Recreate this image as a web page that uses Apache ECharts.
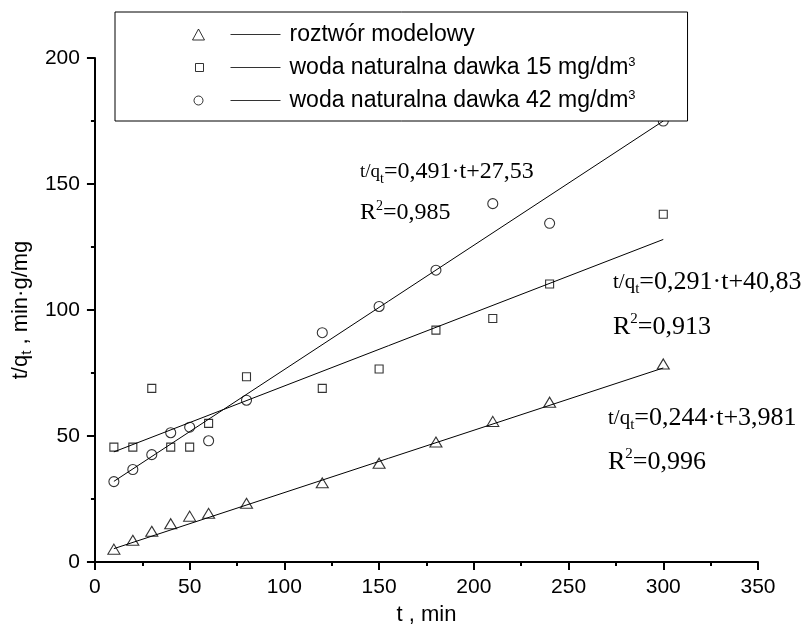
<!DOCTYPE html>
<html>
<head>
<meta charset="utf-8">
<script src="https://cdn.jsdelivr.net/npm/echarts@6/dist/echarts.min.js"></script>
<style>
  html, body { margin: 0; padding: 0; background: #fff; }
  #chart { width: 805px; height: 631px; }
</style>
</head>
<body>
<div id="chart"></div>
<script>
// values
const timeMin = [10, 20, 30, 40, 50, 60, 80, 120, 150, 180, 210, 240, 300];
const modelowy = [5.1, 8.6, 12.2, 15.2, 18.2, 19.3, 23.3, 31.4, 39.2, 47.6, 55.8, 63.4, 78.6];
const dawka15 = [45.6, 45.6, 68.9, 45.6, 45.6, 55.0, 73.5, 68.9, 76.6, 92.0, 96.6, 110.3, 138.0];
const dawka42 = [31.9, 36.7, 42.6, 51.3, 53.5, 48.1, 64.2, 91.0, 101.4, 115.8, 142.2, 134.4, 175.0];

// fitted lines, end points as drawn
const fitT = [10, 300];
const fitModelowy = [5.3, 77.0];
const fit15 = [43.7, 128.0];
const fit42 = [32.0, 175.0];

const seriesNames = [
    'roztwór modelowy',
    'woda naturalna dawka 15 mg/dm3',
    'woda naturalna dawka 42 mg/dm3',
];
const equations = ['=0,244·t+3,981', '=0,291·t+40,83', '=0,491·t+27,53'];
const rSquared = ['=0,996', '=0,913', '=0,985'];

const sans = 'Liberation Sans';
const serif = 'Liberation Serif';

function pairs(xs, ys) {
    return xs.map((x, i) => [x, ys[i]]);
}

const markerStyle = {
    color: 'rgba(0,0,0,0)',
    borderColor: '#000',
    borderWidth: 1.1,
};

function scatter(name, values, symbol, size) {
    return {
        name,
        type: 'scatter',
        data: pairs(timeMin, values),
        symbol,
        symbolSize: size,
        itemStyle: markerStyle,
        z: 3,
    };
}

function fitLine(values) {
    return {
        type: 'line',
        data: pairs(fitT, values),
        showSymbol: false,
        symbol: 'none',
        lineStyle: { color: '#000', width: 1 },
        silent: true,
        z: 2,
    };
}

// marker + short line, as in the original legend
const legendIcons = [
    'path://M0,5.5M92,5.5M0,11L6,0L12,11Z M38,5.5L88,5.5',
    'path://M0,4M92,4M3,0L11,0L11,8L3,8Z M38,4L88,4',
    'path://M0,5M92,5M1.5,5A4.5,4.5,0,1,1,10.5,5A4.5,4.5,0,1,1,1.5,5Z M38,5L88,5',
];

function eqRich(big, small, sub) {
    return {
        q: { fontFamily: serif, fontSize: small, lineHeight: big + 4, color: '#000' },
        sub: { fontFamily: serif, fontSize: sub, lineHeight: sub, verticalAlign: 'bottom', color: '#000' },
        sup: { fontFamily: serif, fontSize: sub, lineHeight: sub, verticalAlign: 'top', color: '#000' },
        m: { fontFamily: serif, fontSize: big, lineHeight: big + 4, color: '#000' },
    };
}

function annotation(i, x, yEq, yR, big, small, sub) {
    const rich = eqRich(big, small, sub);
    return [
        {
            type: 'text', x, y: yEq,
            style: { text: '{q|t/q}{sub|t}{m|' + equations[i] + '}', rich, verticalAlign: 'middle', fill: '#000' },
        },
        {
            type: 'text', x, y: yR,
            style: { text: '{m|R}{sup|2}{m|' + rSquared[i] + '}', rich, verticalAlign: 'middle', fill: '#000' },
        },
    ];
}

const axisCommon = {
    axisLine: { show: true, lineStyle: { color: '#000', width: 2 } },
    axisTick: { show: true, inside: false, length: 8, lineStyle: { color: '#000', width: 2 } },
    minorTick: { show: true, splitNumber: 2, length: 4, lineStyle: { color: '#000', width: 2 } },
    splitLine: { show: false },
    axisLabel: { color: '#000', fontFamily: sans, fontSize: 21, margin: 15 },
};

const chart = echarts.init(document.getElementById('chart'), null, { renderer: 'canvas' });

chart.setOption({
    animation: false,
    backgroundColor: '#fff',
    grid: { left: 93, right: 47, top: 58, bottom: 63 },
    xAxis: {
        ...axisCommon,
        type: 'value',
        min: 0,
        max: 350,
        interval: 50,
        name: 't , min',
        nameLocation: 'middle',
        nameGap: 42,
        nameTextStyle: { color: '#000', fontFamily: sans, fontSize: 22 },
    },
    yAxis: {
        ...axisCommon,
        type: 'value',
        min: 0,
        max: 200,
        interval: 50,
        name: 't/q{sub|t} , min·g/mg',
        nameLocation: 'middle',
        nameGap: 55,
        nameTextStyle: {
            color: '#000', fontFamily: sans, fontSize: 22, lineHeight: 26,
            rich: { sub: { fontFamily: sans, fontSize: 15, lineHeight: 15, verticalAlign: 'bottom', color: '#000' } },
        },
    },
    legend: {
        orient: 'vertical',
        left: 115,
        top: 12,
        data: seriesNames.map((name, i) => ({ name, icon: legendIcons[i] })),
        itemWidth: 92,
        itemHeight: 12,
        itemGap: 10,
        padding: [11, 52, 9, 77],
        backgroundColor: '#fff',
        borderColor: '#000',
        borderWidth: 1,
        borderRadius: 0,
        selectedMode: false,
        symbolKeepAspect: true,
        itemStyle: { color: 'rgba(0,0,0,0)', borderColor: '#000', borderWidth: 1 },
        formatter: (name) => name.replace(/dm3$/, 'dm{sup|3}'),
        textStyle: {
            color: '#000', fontFamily: sans, fontSize: 23, lineHeight: 23,
            rich: { sup: { fontFamily: sans, fontSize: 13, lineHeight: 13, verticalAlign: 'top', color: '#000' } },
        },
    },
    series: [
        scatter(seriesNames[0], modelowy, 'triangle', [12, 10]),
        scatter(seriesNames[1], dawka15, 'rect', 8),
        scatter(seriesNames[2], dawka42, 'circle', 10),
        fitLine(fitModelowy),
        fitLine(fit15),
        fitLine(fit42),
    ],
    graphic: [
        ...annotation(0, 608, 418, 462, 26, 21, 15),
        ...annotation(1, 613, 282, 327, 26, 21, 15),
        ...annotation(2, 360, 172, 213, 24, 19, 14),
    ],
});
</script>
</body>
</html>
